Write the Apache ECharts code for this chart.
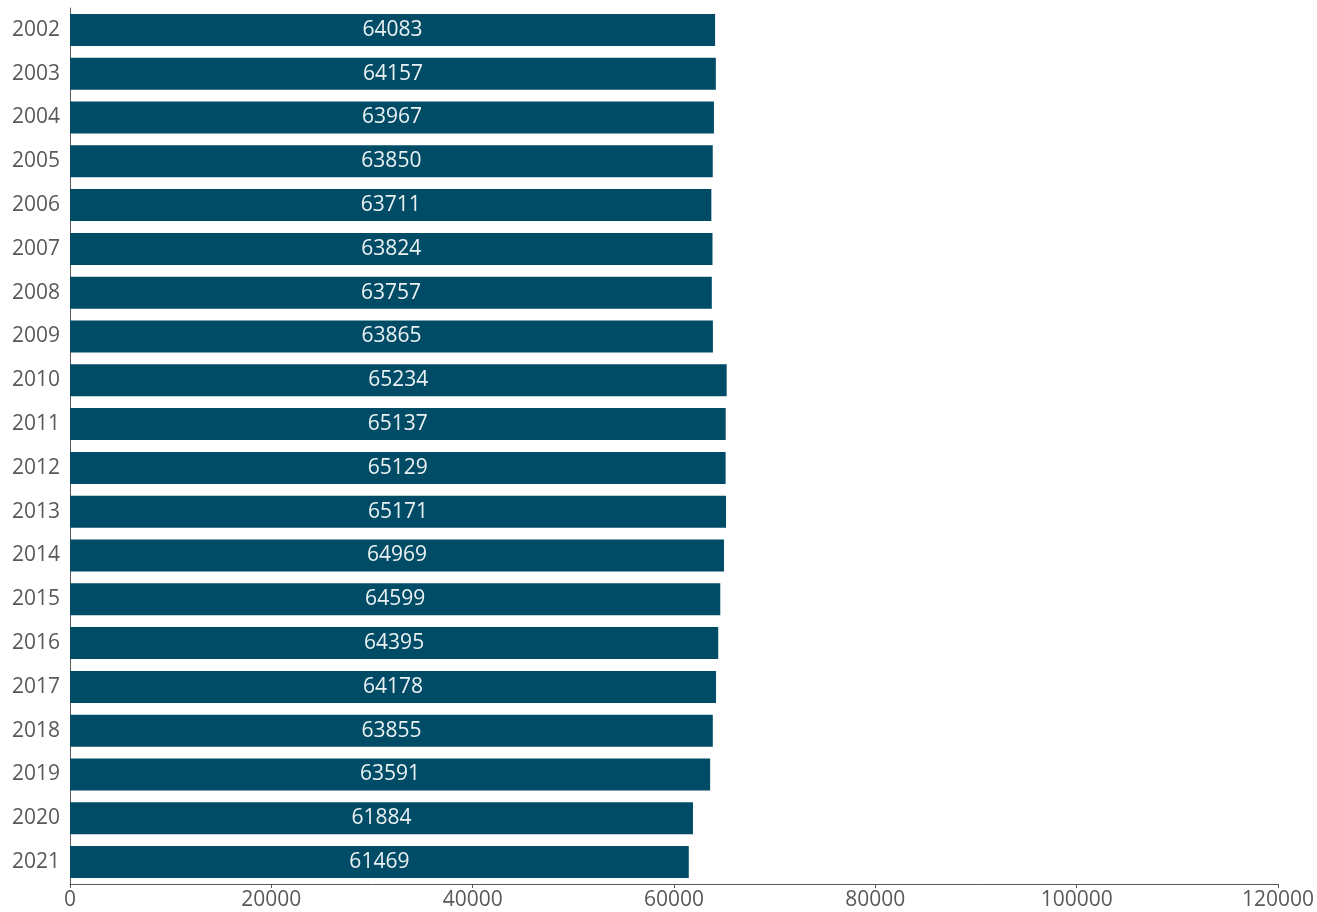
<!DOCTYPE html>
<html>
<head>
<meta charset="utf-8">
<script src="https://cdn.jsdelivr.net/npm/echarts@6/dist/echarts.min.js"></script>
<style>
html,body{margin:0;padding:0;background:#fff;}
#chart{width:1317px;height:912px;}
</style>
</head>
<body>
<div id="chart"></div>
<script>
var years = ['2002','2003','2004','2005','2006','2007','2008','2009','2010','2011',
	'2012','2013','2014','2015','2016','2017','2018','2019','2020','2021'];
var values = [64083,64157,63967,63850,63711,63824,63757,63865,65234,65137,
	65129,65171,64969,64599,64395,64178,63855,63591,61884,61469];
var xTicks = [0,20000,40000,60000,80000,100000,120000];

var chart = echarts.init(document.getElementById('chart'));
var option = {
	animation:false,
	grid:{left:70,right:37,top:8,bottom:28,containLabel:false},
	xAxis:{
		type:'value',
		min:xTicks[0],
		max:xTicks[xTicks.length-1],
		interval:20000,
		splitLine:{show:false},
		axisLine:{show:true,lineStyle:{color:'#595959',width:1}},
		axisTick:{show:true,length:4,lineStyle:{color:'#595959'}},
		axisLabel:{color:'#595959',fontSize:21,fontFamily:'Open Sans',margin:6,
			formatter:function(v){ return String(v); }}
	},
	yAxis:{
		type:'category',
		data:years,
		inverse:true,
		axisLine:{show:true,lineStyle:{color:'#595959',width:1}},
		axisTick:{show:false},
		axisLabel:{color:'#595959',fontSize:21,fontFamily:'Open Sans',margin:10}
	},
	series:[{
		type:'bar',
		data:values,
		barCategoryGap:'27%',
		itemStyle:{color:'#004C66'},
		label:{
			show:true,
			position:'inside',
			color:'#EAF1F3',
			fontSize:21,
			fontFamily:'Open Sans',
			formatter:function(p){ return String(p.value); }
		}
	}]
};
chart.setOption(option);
</script>
</body>
</html>
